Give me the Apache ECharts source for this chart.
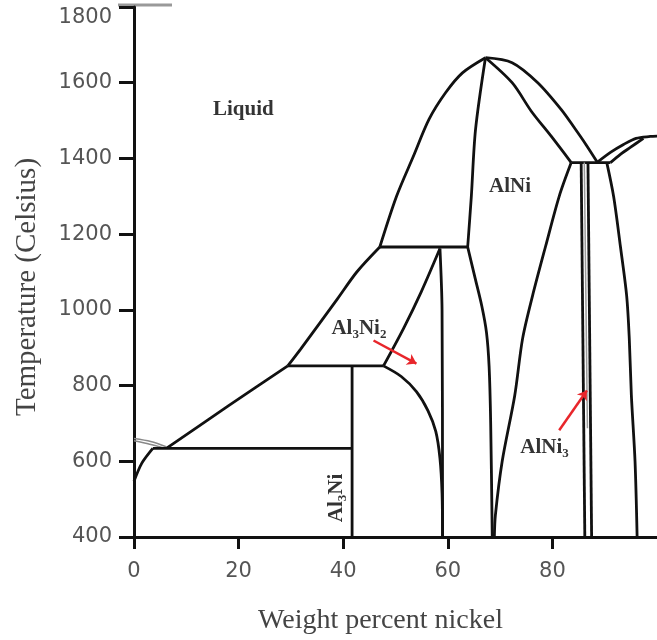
<!DOCTYPE html>
<html>
<head>
<meta charset="utf-8">
<script src="https://cdn.jsdelivr.net/npm/echarts@6/dist/echarts.min.js"></script>
<style>
  html, body { margin: 0; padding: 0; background: #fff; }
  #chart { width: 657px; height: 640px; }
</style>
</head>
<body>
<div id="chart"></div>
<script>
// axis ticks
const xTicks = [0, 20, 40, 60, 80, 100];
const yTicks = [400, 600, 800, 1000, 1200, 1400, 1600, 1800];

// phase boundaries, [wt% Ni, temperature C]
const alSolvus = [[0, 547], [1.5, 595], [3.6, 634]];
const alLensUpper = [[0, 660], [3.2, 652], [6.4, 637]];
const alLensLower = [[0, 654], [3.0, 645], [5.5, 636]];
const eutectic640 = [[3.6, 634], [41.7, 634]];
const liquidusLow = [[6.4, 636], [18.1, 747], [29.4, 852]];
const liquidusMid = [[29.4, 852], [31.9, 897], [38.9, 1029], [42.6, 1100], [47.0, 1166]];
const domeLeft = [[47.0, 1166], [50.2, 1300], [53.4, 1405], [56.4, 1503], [59.6, 1574], [62.8, 1626], [67.2, 1666]];
const domeRight = [[67.2, 1666], [72.3, 1653], [77.2, 1600], [81.7, 1529], [84.2, 1481], [86.4, 1437], [88.5, 1392]];
const liquidusNi = [[88.5, 1389], [91.1, 1416], [93.6, 1437], [96.0, 1453], [98.7, 1458], [100, 1459]];
const solidusNi = [[91.1, 1389], [93.0, 1411], [94.9, 1429], [97.4, 1453]];
const peritectic854 = [[29.4, 852], [47.7, 852]];
const peritectic1133 = [[47.0, 1166], [63.8, 1166]];
const peritectic1395 = [[83.6, 1389], [91.1, 1389]];
const al3Ni = [[41.7, 852], [41.7, 400]];
const al3Ni2Left = [[47.7, 852], [51.5, 950], [54.9, 1047], [58.5, 1162]];
const al3Ni2Right = [[58.5, 1162], [58.9, 1000], [59.0, 400]];
const al3Ni2Lower = [[47.7, 852], [51.1, 824], [54.0, 784], [56.2, 734], [57.7, 679], [58.5, 608], [58.9, 516], [59.0, 400]];
const alNiUpper = [[67.2, 1666], [65.3, 1476], [64.5, 1300], [63.8, 1166]];
const alNiLower = [[63.8, 1166], [65.2, 1085], [66.5, 1010], [67.4, 940], [67.9, 850], [68.2, 700], [68.5, 400]];
const alNiInner = [[67.2, 1666], [72.3, 1600], [76.0, 1524], [79.8, 1458], [83.6, 1389]];
const alNiRight = [[83.6, 1389], [81.3, 1300], [78.7, 1168], [76.2, 1037], [74.3, 924], [72.8, 774], [70.4, 600], [69.1, 458], [68.9, 400]];
const alNi3Left = [[85.5, 1389], [86.2, 400]];
const alNi3Right = [[86.8, 1389], [87.5, 400]];
const alNi3Mid = [[86.1, 1389], [86.7, 687]];
const niSolvus = [[90.4, 1389], [91.7, 1300], [93.0, 1168], [94.2, 1037], [94.7, 924], [95.1, 774], [95.8, 600], [96.2, 400]];

// region labels and arrows
const phaseLabels = [
  { name: 'Liquid', value: [20.9, 1529], text: '{b|Liquid}' },
  { name: 'AlNi', value: [71.9, 1324], text: '{b|AlNi}' },
  { name: 'Al3Ni2', value: [43.0, 948], text: '{b|Al}{s|3}{b|Ni}{s|2}' },
  { name: 'AlNi3', value: [78.5, 634], text: '{b|AlNi}{s|3}' }
];
const al3NiLabel = [38.9, 503];
const arrows = [
  [[45.8, 919], [54.0, 858]],
  [[81.3, 682], [86.6, 787]]
];

const black = '#111';
const lineOf = (data, smooth, color, width) => ({
  type: 'line',
  data: data,
  smooth: smooth ? 0.3 : false,
  showSymbol: false,
  symbol: 'none',
  lineStyle: { color: color || black, width: width || 2.8 },
  silent: true,
  z: 3
});

const rich = {
  b: { fontFamily: 'Liberation Serif', fontWeight: 'bold', fontSize: 21, color: '#000', verticalAlign: 'top', lineHeight: 22 },
  s: { fontFamily: 'Liberation Serif', fontWeight: 'bold', fontSize: 13, color: '#000', verticalAlign: 'top', lineHeight: 22, padding: [10, 0, 0, 0] }
};

const chart = echarts.init(document.getElementById('chart'), null, { renderer: 'canvas' });

const options = {
  animation: false,
  backgroundColor: '#fff',
  grid: { left: 134, top: 7, width: 530, height: 532 },
  xAxis: {
    type: 'value',
    min: xTicks[0],
    max: xTicks[xTicks.length - 1],
    interval: 20,
    name: 'Weight percent nickel',
    nameLocation: 'middle',
    nameGap: 70,
    nameTextStyle: { fontFamily: 'Liberation Serif', fontSize: 28, color: '#444', padding: [0, 30, 0, 0] },
    axisLine: { lineStyle: { color: black, width: 3 } },
    axisTick: { length: 12, lineStyle: { color: black, width: 3 } },
    axisLabel: { showMaxLabel: false, margin: 24, fontFamily: 'DejaVu Sans', fontSize: 21, color: '#555' },
    splitLine: { show: false }
  },
  yAxis: {
    type: 'value',
    min: yTicks[0],
    max: yTicks[yTicks.length - 1],
    interval: 200,
    name: 'Temperature (Celsius)',
    nameLocation: 'middle',
    nameRotate: 90,
    nameGap: 92,
    nameTextStyle: { fontFamily: 'Liberation Serif', fontSize: 29, color: '#444', padding: [0, 30, 0, 0] },
    axisLine: { lineStyle: { color: black, width: 3 } },
    axisTick: { length: 15, lineStyle: { color: black, width: 3 } },
    axisLabel: {
      margin: 22, fontFamily: 'DejaVu Sans', fontSize: 21, color: '#555',
      verticalAlignMaxLabel: 'top', formatter: v => String(v)
    },
    splitLine: { show: false }
  },
  graphic: [
    { type: 'line', shape: { x1: 118, y1: 5, x2: 172, y2: 5 }, style: { stroke: '#999', lineWidth: 3 } }
  ],
  series: [
    lineOf(alSolvus, true),
    lineOf(alLensUpper, true, '#888', 1.5),
    lineOf(alLensLower, true, '#888', 1.5),
    lineOf(eutectic640),
    lineOf(liquidusLow, true),
    lineOf(liquidusMid, true),
    lineOf(domeLeft, true),
    lineOf(domeRight, true),
    lineOf(liquidusNi, true),
    lineOf(solidusNi, true),
    lineOf(peritectic854),
    lineOf(peritectic1133),
    lineOf(peritectic1395),
    lineOf(al3Ni),
    lineOf(al3Ni2Left, true),
    lineOf(al3Ni2Right, true),
    lineOf(al3Ni2Lower, true),
    lineOf(alNiUpper, true),
    lineOf(alNiLower, true),
    lineOf(alNiInner, true),
    lineOf(alNiRight, true),
    lineOf(alNi3Left),
    lineOf(alNi3Right),
    lineOf(alNi3Mid, false, '#999', 1.5),
    lineOf(niSolvus, true),
    {
      type: 'scatter',
      symbolSize: 0,
      silent: true,
      z: 5,
      data: phaseLabels.map(d => ({ name: d.name, value: d.value, text: d.text })),
      label: {
        show: true,
        position: 'inside',
        textBorderWidth: 0,
        formatter: p => p.data.text,
        rich: rich
      }
    },
    {
      type: 'scatter',
      symbolSize: 0,
      silent: true,
      z: 5,
      data: [{ name: 'Al3Ni', value: al3NiLabel }],
      label: {
        show: true,
        position: 'inside',
        rotate: 90,
        textBorderWidth: 0,
        formatter: '{b|Al}{s|3}{b|Ni}',
        rich: rich
      }
    },
    {
      type: 'lines',
      coordinateSystem: 'cartesian2d',
      silent: true,
      z: 6,
      symbol: ['none', 'arrow'],
      symbolSize: 9,
      lineStyle: { color: '#e8262b', width: 2.5, opacity: 1 },
      data: arrows.map(c => ({ coords: c }))
    }
  ]
};

chart.setOption(options);
</script>
</body>
</html>
